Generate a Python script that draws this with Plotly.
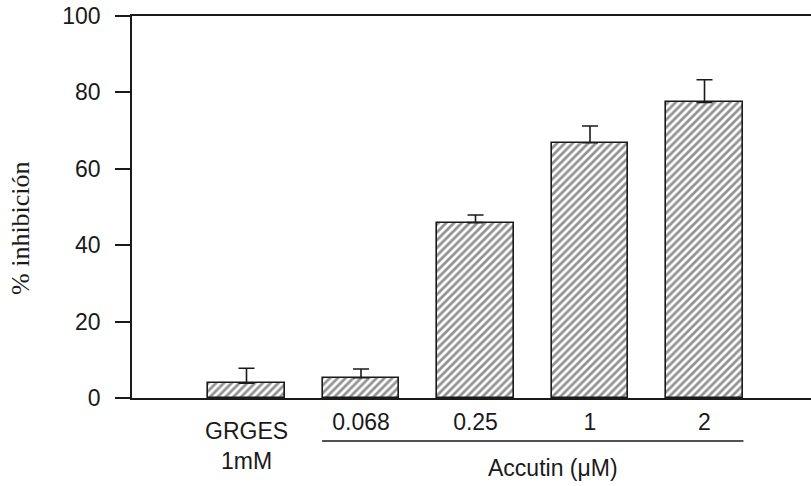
import plotly.graph_objects as go

# Data
positions = [1, 2, 3, 4, 5]
categories = ["GRGES 1mM", "0.068", "0.25", "1", "2"]
inhibition = [3.9, 5.3, 45.9, 66.8, 77.4]
error_up = [3.9, 2.3, 2.0, 4.4, 5.9]
dose_ticks = [2, 3, 4, 5]
dose_labels = ["0.068", "0.25", "1", "2"]
y_ticks = [0, 20, 40, 60, 80, 100]

ink = "#1a1a1a"
W, H = 811, 486
L, T, B = 132, 16, 88
plot_h = H - T - B
plot_w = W - L

fig = go.Figure()
fig.add_trace(go.Bar(
    x=positions,
    y=inhibition,
    width=0.67,
    marker=dict(
        color="white",
        line=dict(color=ink, width=1.6),
        pattern=dict(shape="/", size=5.5, solidity=0.5, fgcolor="#262626", bgcolor="white"),
    ),
    error_y=dict(type="data", symmetric=False, array=error_up,
                 arrayminus=[0] * len(error_up), color=ink, thickness=1.6, width=8),
    showlegend=False,
))

fig.update_layout(
    width=W, height=H,
    margin=dict(l=L, r=0, t=T, b=B, autoexpand=False),
    paper_bgcolor="white", plot_bgcolor="white",
    font=dict(family="Liberation Sans, Arial, sans-serif", color=ink, size=23),
    bargap=0,
)

fig.update_xaxes(
    range=[0.0, 5.93],
    showline=True, linecolor=ink, linewidth=1.6, mirror=True,
    showgrid=False, zeroline=False,
    tickmode="array", tickvals=dose_ticks, ticktext=dose_labels,
    ticks="", ticklabelstandoff=3,
    tickfont=dict(size=23, color=ink),
)
fig.update_yaxes(
    range=[0, 100],
    showline=True, linecolor=ink, linewidth=1.6,
    showgrid=False, zeroline=False,
    tickmode="array", tickvals=y_ticks,
    ticks="outside", ticklen=15, tickwidth=1.6, tickcolor=ink,
    ticklabelstandoff=10, ticklabeloverflow="allow",
    tickfont=dict(size=23, color=ink),
)

# GRGES label
fig.add_annotation(x=1, y=0, xref="x", yref="paper", yshift=-18,
                   text="GRGES<br>1mM", showarrow=False, yanchor="top",
                   font=dict(size=23, color=ink))
# Accutin bracket
fig.add_shape(type="line", xref="x", yref="paper", x0=1.66, x1=5.34,
              y0=-43 / plot_h, y1=-43 / plot_h, line=dict(color=ink, width=1.6))
fig.add_annotation(x=3.68, y=-55 / plot_h, xref="x", yref="paper",
                   text="Accutin (μM)", showarrow=False, yanchor="top",
                   font=dict(size=23, color=ink))
# Y title
fig.add_annotation(x=(20 - L) / plot_w, y=(H - B - 228) / plot_h, xref="paper", yref="paper",
                   text="% inhibición", textangle=-90, showarrow=False,
                   xanchor="center", yanchor="middle",
                   font=dict(family="Liberation Serif, Times New Roman, serif", size=26, color=ink))

fig.write_html("out.html", config={"displayModeBar": False},
               post_script="document.body.style.margin='0';document.body.style.padding='0';")
